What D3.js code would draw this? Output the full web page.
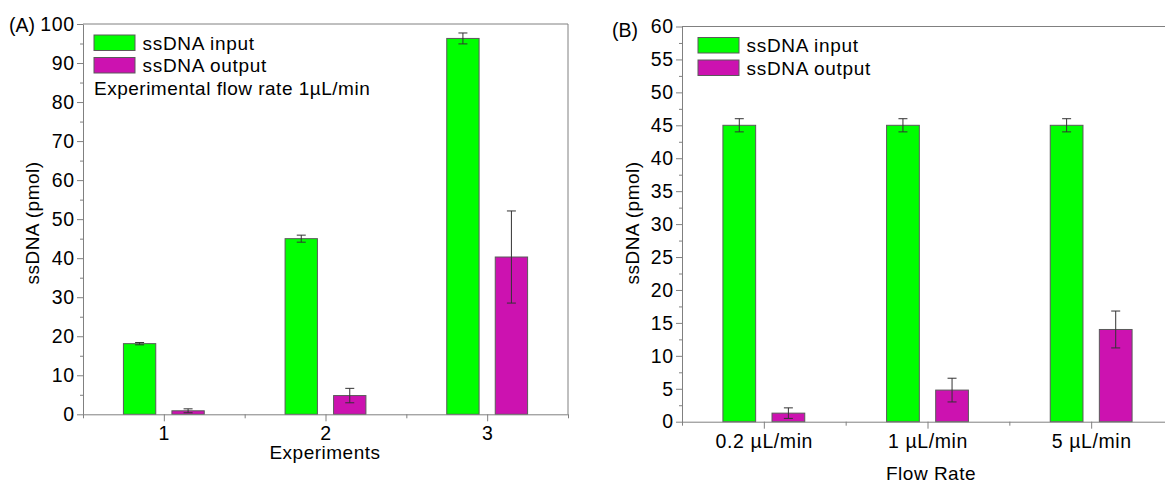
<!DOCTYPE html>
<html>
<head>
<meta charset="utf-8">
<script src="https://cdn.jsdelivr.net/npm/d3@7"></script>
<style>
  body { margin: 0; background: #fff; }
  svg { font-family: "Liberation Sans", Arial, sans-serif; }
</style>
</head>
<body>
<div id="chart"></div>
<script>
// panel A data
const catsA = ["1", "2", "3"];
const inputA = [18.1, 45.0, 96.3];
const inputErrA = [0.3, 0.9, 1.4];
const outputA = [0.9, 4.8, 40.3];
const outputErrA = [0.5, 1.85, 11.8];

// panel B data
const catsB = ["0.2 µL/min", "1 µL/min", "5 µL/min"];
const inputB = [45.0, 45.0, 45.0];
const inputErrB = [1.0, 1.0, 1.0];
const outputB = [1.3, 4.8, 14.0];
const outputErrB = [0.8, 1.8, 2.8];

const seriesNames = ["ssDNA input", "ssDNA output"];
const colors = ["#00ff00", "#cc12b0"];

const width = 1165, height = 485;
const axisGray = "#808080";

const svg = d3.select("#chart").append("svg")
  .attr("width", width)
  .attr("height", height);

function drawPanel(p) {
  const x = d3.scaleLinear().domain([0.5, 3.5]).range([p.left, p.right]);
  const y = d3.scaleLinear().domain([0, p.ymax]).range([p.bottom, p.top]);
  const step = x(2) - x(1);
  const bw = step * 0.2;
  const off = step * 0.15;

  const g = svg.append("g");

  // frame: top line (and right line)
  g.append("line")
    .attr("x1", p.left).attr("x2", p.right)
    .attr("y1", p.top).attr("y2", p.top)
    .attr("stroke", axisGray);
  g.append("line")
    .attr("x1", p.right).attr("x2", p.right)
    .attr("y1", p.top).attr("y2", p.bottom)
    .attr("stroke", axisGray);

  // bars
  const series = [
    { vals: p.input, errs: p.inputErr, dx: -off, color: colors[0] },
    { vals: p.output, errs: p.outputErr, dx: off, color: colors[1] }
  ];
  series.forEach(s => {
    const bars = g.append("g");
    bars.selectAll("rect")
      .data(s.vals)
      .enter()
      .append("rect")
      .attr("x", (d, i) => x(i + 1) + s.dx - bw / 2)
      .attr("y", d => y(d))
      .attr("width", bw)
      .attr("height", d => y(0) - y(d))
      .attr("fill", s.color)
      .attr("stroke", "#5a5a5a")
      .attr("stroke-width", 1);

    // error bars
    const eb = g.append("g").attr("stroke", "#333").attr("stroke-width", 1);
    s.vals.forEach((v, i) => {
      const cx = x(i + 1) + s.dx;
      const e = s.errs[i];
      eb.append("line").attr("x1", cx).attr("x2", cx)
        .attr("y1", y(v - e)).attr("y2", y(v + e));
      [v - e, v + e].forEach(t => {
        eb.append("line").attr("x1", cx - 4.5).attr("x2", cx + 4.5)
          .attr("y1", y(t)).attr("y2", y(t));
      });
    });
  });

  // y axis
  const majors = d3.range(0, p.ymax + 0.001, p.ystep);
  const minors = d3.range(p.ystep / 2, p.ymax, p.ystep);
  g.append("g")
    .attr("class", "yax")
    .attr("transform", "translate(" + p.left + ",0)")
    .call(d3.axisLeft(y).tickValues(majors).tickSize(6).tickPadding(3).tickSizeOuter(0));
  g.append("g")
    .attr("transform", "translate(" + p.left + ",0)")
    .call(d3.axisLeft(y).tickValues(minors).tickSize(3).tickFormat("").tickSizeOuter(0))
    .call(a => a.select(".domain").remove());

  // x axis
  g.append("g")
    .attr("transform", "translate(0," + p.bottom + ")")
    .call(d3.axisBottom(x).tickValues([1, 2, 3]).tickFormat((d, i) => p.cats[i])
      .tickSize(7).tickPadding(5).tickSizeOuter(0));
  g.append("g")
    .attr("transform", "translate(0," + p.bottom + ")")
    .call(d3.axisBottom(x).tickValues([0.5, 1.5, 2.5, 3.5]).tickSize(4).tickFormat("").tickSizeOuter(0))
    .call(a => a.select(".domain").remove());

  g.selectAll(".domain, .tick line").attr("stroke", axisGray);
  g.selectAll(".tick text")
    .attr("fill", "#000")
    .style("font-size", "19.5px")
    .style("letter-spacing", "0.6px");
  // keep right-aligned y labels flush despite letter spacing
  g.selectAll(".yax .tick text").attr("dx", "0.6px");

  // axis titles
  g.append("text")
    .attr("x", p.xTitleX).attr("y", p.xTitleY)
    .attr("text-anchor", "middle")
    .style("font-size", "19px")
    .style("letter-spacing", "0.5px")
    .text(p.xTitle);
  g.append("text")
    .attr("transform", "translate(" + p.yTitleX + ",223) rotate(-90)")
    .attr("text-anchor", "middle")
    .attr("dominant-baseline", "central")
    .style("font-size", "19px")
    .style("letter-spacing", "0.5px")
    .text("ssDNA (pmol)");

  // panel letter
  g.append("text")
    .attr("x", p.tagX).attr("y", p.tagY)
    .style("font-size", "19.5px")
    .text(p.tag);

  // legend
  const lg = g.append("g");
  seriesNames.forEach((name, i) => {
    lg.append("rect")
      .attr("x", p.legX).attr("y", p.legY + i * 22.5)
      .attr("width", 41).attr("height", 15.5)
      .attr("fill", colors[i])
      .attr("stroke", "#5a5a5a");
    lg.append("text")
      .attr("x", p.legX + 48.5).attr("y", p.legY + i * 22.5 + 8)
      .attr("dominant-baseline", "central")
      .style("font-size", "19px")
      .style("letter-spacing", "0.7px")
      .text(name);
  });
  if (p.note) {
    lg.append("text")
      .attr("x", p.legX).attr("y", p.legY + 53)
      .attr("dominant-baseline", "central")
      .style("font-size", "19px")
      .style("letter-spacing", "0.5px")
      .text(p.note);
  }
}

drawPanel({
  cats: catsA, input: inputA, inputErr: inputErrA, output: outputA, outputErr: outputErrA,
  left: 83, right: 568, top: 24, bottom: 414.3, ymax: 100, ystep: 10,
  xTitle: "Experiments", xTitleX: 325, xTitleY: 459, yTitleX: 32,
  tag: "(A)", tagX: 9, tagY: 32,
  legX: 94, legY: 35, note: "Experimental flow rate 1µL/min"
});

drawPanel({
  cats: catsB, input: inputB, inputErr: inputErrB, output: outputB, outputErr: outputErrB,
  left: 682, right: 1173, top: 26.5, bottom: 421.7, ymax: 60, ystep: 5,
  xTitle: "Flow Rate", xTitleX: 931, xTitleY: 480, yTitleX: 632,
  tag: "(B)", tagX: 612, tagY: 37,
  legX: 698, legY: 37.5, note: null
});
</script>
</body>
</html>
